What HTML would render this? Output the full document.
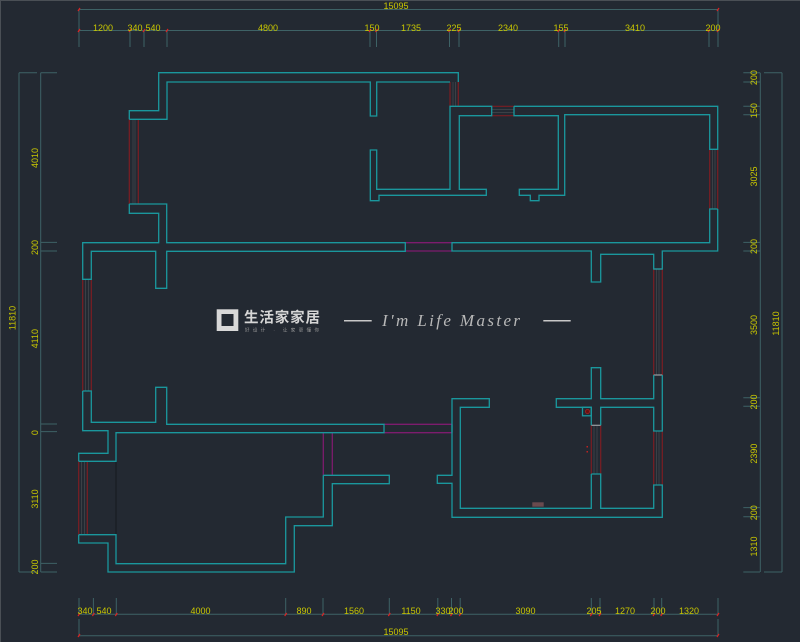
<!DOCTYPE html>
<html><head><meta charset="utf-8"><style>
html,body{margin:0;padding:0;background:#232932;}
svg{display:block}
</style></head><body>
<svg width="800" height="642" viewBox="0 0 800 642" xmlns="http://www.w3.org/2000/svg">
<rect width="800" height="642" fill="#232932"/>
<rect x="0" y="0" width="800" height="1" fill="#4a4f55"/>
<rect x="0" y="0" width="1" height="642" fill="#4a4f55"/>

<!-- dimension lines -->
<g stroke="#3e6266" stroke-width="1" fill="none">
  <line x1="79" y1="9.5" x2="718" y2="9.5"/>
  <line x1="79" y1="9.5" x2="79" y2="30"/><line x1="718" y1="9.5" x2="718" y2="30"/>
  <line x1="79" y1="30.5" x2="718" y2="30.5"/>
  <line x1="79" y1="30" x2="79" y2="47"/><line x1="130" y1="30" x2="130" y2="47"/><line x1="144" y1="30" x2="144" y2="47"/><line x1="167" y1="30" x2="167" y2="47"/><line x1="370" y1="30" x2="370" y2="47"/><line x1="376.5" y1="30" x2="376.5" y2="47"/><line x1="449.5" y1="30" x2="449.5" y2="47"/><line x1="459" y1="30" x2="459" y2="47"/><line x1="558.7" y1="30" x2="558.7" y2="47"/><line x1="565" y1="30" x2="565" y2="47"/><line x1="709" y1="30" x2="709" y2="47"/><line x1="718" y1="30" x2="718" y2="47"/>

  <line x1="79" y1="614.3" x2="718" y2="614.3"/>
  <line x1="79" y1="598" x2="79" y2="614"/><line x1="93.4" y1="598" x2="93.4" y2="614"/><line x1="116.3" y1="598" x2="116.3" y2="614"/><line x1="285.7" y1="598" x2="285.7" y2="614"/><line x1="323" y1="598" x2="323" y2="614"/><line x1="389.3" y1="598" x2="389.3" y2="614"/><line x1="437.8" y1="598" x2="437.8" y2="614"/><line x1="451.5" y1="598" x2="451.5" y2="614"/><line x1="460.2" y1="598" x2="460.2" y2="614"/><line x1="591.3" y1="598" x2="591.3" y2="614"/><line x1="600" y1="598" x2="600" y2="614"/><line x1="654" y1="598" x2="654" y2="614"/><line x1="661.7" y1="598" x2="661.7" y2="614"/><line x1="718" y1="598" x2="718" y2="614"/>
  <line x1="79" y1="635.7" x2="718" y2="635.7"/>
  <line x1="79" y1="619" x2="79" y2="636"/><line x1="718" y1="619" x2="718" y2="636"/>

  <line x1="19" y1="72.8" x2="19" y2="572"/>
  <line x1="40.7" y1="72.8" x2="40.7" y2="572"/>
  <line x1="19" y1="72.8" x2="37" y2="72.8"/><line x1="40.7" y1="72.8" x2="57" y2="72.8"/>
  <line x1="19" y1="572" x2="37" y2="572"/><line x1="40.7" y1="572" x2="57" y2="572"/>
  <line x1="40.7" y1="242.4" x2="57" y2="242.4"/><line x1="40.7" y1="251" x2="57" y2="251"/><line x1="40.7" y1="424" x2="57" y2="424"/><line x1="40.7" y1="431.6" x2="57" y2="431.6"/><line x1="40.7" y1="563.4" x2="57" y2="563.4"/>

  <line x1="760.3" y1="72.8" x2="760.3" y2="572"/>
  <line x1="782" y1="72.8" x2="782" y2="572"/>
  <line x1="743.3" y1="72.8" x2="760" y2="72.8"/><line x1="764" y1="72.8" x2="782" y2="72.8"/>
  <line x1="743.3" y1="572" x2="760" y2="572"/><line x1="764" y1="572" x2="782" y2="572"/>
  <line x1="743.3" y1="82" x2="760" y2="82"/><line x1="743.3" y1="106.3" x2="760" y2="106.3"/><line x1="743.3" y1="114.7" x2="760" y2="114.7"/><line x1="743.3" y1="242.4" x2="760" y2="242.4"/><line x1="743.3" y1="251" x2="760" y2="251"/><line x1="743.3" y1="397.8" x2="760" y2="397.8"/><line x1="743.3" y1="406.3" x2="760" y2="406.3"/><line x1="743.3" y1="507.6" x2="760" y2="507.6"/><line x1="743.3" y1="516.8" x2="760" y2="516.8"/>
</g>
<g stroke="#d22" stroke-width="1.2">
  <line x1="78" y1="11" x2="80" y2="8"/><line x1="717" y1="11" x2="719" y2="8"/>
  <line x1="78" y1="32" x2="80" y2="29"/><line x1="129" y1="32" x2="131" y2="29"/><line x1="143" y1="32" x2="145" y2="29"/><line x1="166" y1="32" x2="168" y2="29"/><line x1="369" y1="32" x2="371" y2="29"/><line x1="375.5" y1="32" x2="377.5" y2="29"/><line x1="448.5" y1="32" x2="450.5" y2="29"/><line x1="458" y1="32" x2="460" y2="29"/><line x1="557.7" y1="32" x2="559.7" y2="29"/><line x1="564" y1="32" x2="566" y2="29"/><line x1="708" y1="32" x2="710" y2="29"/><line x1="717" y1="32" x2="719" y2="29"/>
  <line x1="78" y1="616" x2="80" y2="613"/><line x1="92.4" y1="616" x2="94.4" y2="613"/><line x1="115.3" y1="616" x2="117.3" y2="613"/><line x1="284.7" y1="616" x2="286.7" y2="613"/><line x1="322" y1="616" x2="324" y2="613"/><line x1="388.3" y1="616" x2="390.3" y2="613"/><line x1="436.8" y1="616" x2="438.8" y2="613"/><line x1="450.5" y1="616" x2="452.5" y2="613"/><line x1="459.2" y1="616" x2="461.2" y2="613"/><line x1="590.3" y1="616" x2="592.3" y2="613"/><line x1="599" y1="616" x2="601" y2="613"/><line x1="653" y1="616" x2="655" y2="613"/><line x1="660.7" y1="616" x2="662.7" y2="613"/><line x1="717" y1="616" x2="719" y2="613"/>
  <line x1="78" y1="637" x2="80" y2="634"/><line x1="717" y1="637" x2="719" y2="634"/>
</g>

<!-- dimension text -->
<g font-family="Liberation Sans, sans-serif" font-size="9" fill="#c9c700" text-anchor="middle">
  <text x="396" y="9">15095</text>
  <text x="103" y="31">1200</text><text x="135" y="31">340</text><text x="153" y="31">540</text><text x="268" y="31">4800</text><text x="372" y="31">150</text><text x="411" y="31">1735</text><text x="454" y="31">225</text><text x="508" y="31">2340</text><text x="561" y="31">155</text><text x="635" y="31">3410</text><text x="713" y="31">200</text>
  <text x="85" y="614">340</text><text x="104" y="614">540</text><text x="200.5" y="614">4000</text><text x="304" y="614">890</text><text x="354" y="614">1560</text><text x="411" y="614">1150</text><text x="443" y="614">330</text><text x="456" y="614">200</text><text x="525.5" y="614">3090</text><text x="594" y="614">205</text><text x="625" y="614">1270</text><text x="658" y="614">200</text><text x="689" y="614">1320</text>
  <text x="396" y="635">15095</text>
  <text transform="translate(15.5,318) rotate(-90)">11810</text>
  <text transform="translate(38,158) rotate(-90)">4010</text>
  <text transform="translate(38,247.5) rotate(-90)">200</text>
  <text transform="translate(38,338.7) rotate(-90)">4110</text>
  <text transform="translate(38,432.6) rotate(-90)">0</text>
  <text transform="translate(38,499) rotate(-90)">3110</text>
  <text transform="translate(38,567) rotate(-90)">200</text>
  <text transform="translate(757,77.6) rotate(-90)">200</text>
  <text transform="translate(757,110.6) rotate(-90)">150</text>
  <text transform="translate(757,176.5) rotate(-90)">3025</text>
  <text transform="translate(757,246.5) rotate(-90)">200</text>
  <text transform="translate(757,325) rotate(-90)">3500</text>
  <text transform="translate(757,402) rotate(-90)">200</text>
  <text transform="translate(757,453.6) rotate(-90)">2390</text>
  <text transform="translate(757,512.7) rotate(-90)">200</text>
  <text transform="translate(757,546.5) rotate(-90)">1310</text>
  <text transform="translate(779,323.5) rotate(-90)">11810</text>
</g>

<!-- windows -->
<g stroke="#3b4046" stroke-width="1">
  <line x1="133" y1="119" x2="133" y2="204"/><line x1="135" y1="119" x2="135" y2="204"/>
  <line x1="453" y1="82" x2="453" y2="106"/><line x1="455.5" y1="82" x2="455.5" y2="106"/>
  <line x1="491.7" y1="109.5" x2="514" y2="109.5"/><line x1="491.7" y1="112.5" x2="514" y2="112.5"/>
  <line x1="712.5" y1="149" x2="712.5" y2="209"/><line x1="715" y1="149" x2="715" y2="209"/>
  <line x1="656.5" y1="269" x2="656.5" y2="375"/><line x1="659" y1="269" x2="659" y2="375"/>
  <line x1="656.5" y1="431" x2="656.5" y2="485"/><line x1="659" y1="431" x2="659" y2="485"/>
  <line x1="594" y1="425" x2="594" y2="474"/><line x1="597" y1="425" x2="597" y2="474"/>
  <line x1="85.5" y1="279" x2="85.5" y2="391"/><line x1="88.5" y1="279" x2="88.5" y2="391"/>
  <line x1="81.5" y1="461" x2="81.5" y2="535"/><line x1="84.5" y1="461" x2="84.5" y2="535"/>
  <line x1="116" y1="461" x2="116" y2="535" stroke="#15191e"/>
</g>
<g stroke="#7c1d22" stroke-width="1.2">
  <line x1="129.3" y1="119" x2="129.3" y2="204"/><line x1="138.3" y1="119" x2="138.3" y2="204"/>
  <line x1="450" y1="82" x2="450" y2="106.3"/><line x1="458.3" y1="82" x2="458.3" y2="106.3"/>
  <line x1="491.7" y1="106.3" x2="514" y2="106.3"/><line x1="491.7" y1="115.7" x2="514" y2="115.7"/>
  <line x1="709.7" y1="149.3" x2="709.7" y2="209"/><line x1="717.7" y1="149.3" x2="717.7" y2="209"/>
  <line x1="653.7" y1="269" x2="653.7" y2="375"/><line x1="662.3" y1="269" x2="662.3" y2="375"/>
  <line x1="653.7" y1="431" x2="653.7" y2="485"/><line x1="662.3" y1="431" x2="662.3" y2="485"/>
  <line x1="591.3" y1="425.3" x2="591.3" y2="474"/><line x1="600.7" y1="425.3" x2="600.7" y2="474"/>
  <line x1="82.7" y1="279.3" x2="82.7" y2="391"/><line x1="91.3" y1="279.3" x2="91.3" y2="391"/>
  <line x1="78.7" y1="461.3" x2="78.7" y2="534.7"/><line x1="87.3" y1="461.3" x2="87.3" y2="534.7"/>
</g>
<g stroke="#9a9ea3" stroke-width="1.2">
  <line x1="653.7" y1="269" x2="662.3" y2="269"/><line x1="653.7" y1="375" x2="662.3" y2="375"/>
  <line x1="591.3" y1="425.3" x2="600.7" y2="425.3"/>
</g>
<!-- magenta doors -->
<g stroke="#7d1c6e" stroke-width="1.3">
  <line x1="405.3" y1="242.7" x2="452" y2="242.7"/><line x1="405.3" y1="251" x2="452" y2="251"/>
  <line x1="384" y1="424.3" x2="452" y2="424.3"/><line x1="384" y1="432.7" x2="452" y2="432.7"/>
  <line x1="323.3" y1="432.7" x2="323.3" y2="475.3"/><line x1="332.3" y1="432.7" x2="332.3" y2="475.3"/>
</g>

<!-- walls -->
<g stroke="#1a979d" stroke-width="1.3" fill="none" stroke-linejoin="miter">
  <polyline points="129.3,119.3 129.3,110.7 158.7,110.7 158.7,72.7 458.3,72.7 458.3,82"/>
  <polyline points="129.3,119.3 138.3,119.3 167,119.3 167,82 370.3,82 370.3,116 376.7,116 376.7,82 450,82"/>
  <polyline points="129.3,204 129.3,213.3 158.7,213.3 158.7,242.7 82.7,242.7 82.7,279.3 91.3,279.3 91.3,251.3 155.7,251.3 155.7,288.3 166.7,288.3 166.7,251.3 405.3,251.3 405.3,242.7 166.7,242.7 166.7,204 129.3,204"/>
  <polyline points="458.3,106.3 450,106.3 450,189.3 376.7,189.3 376.7,150 370.3,150 370.3,200.7 379,200.7 379,195.3 486.3,195.3 486.3,189.3 459.3,189.3 459.3,115.7 491.7,115.7 491.7,106.3 450,106.3"/>
  <polyline points="514,106.3 717.7,106.3 717.7,149.3 709.7,149.3 709.7,114.7 564.7,114.7 564.7,195.3 539,195.3 539,200.7 530.3,200.7 530.3,195.3 519.3,195.3 519.3,189.3 558.3,189.3 558.3,115.7 514,115.7 514,106.3"/>
  <polyline points="717.7,209 709.7,209 709.7,242.7 452,242.7 452,251 591.3,251 591.3,282 600.7,282 600.7,254.3 653.7,254.3 653.7,269 662.3,269 662.3,251 717.7,251 717.7,209"/>
  <polyline points="662.3,375 662.3,431 653.7,431 653.7,407.3 600.7,407.3 600.7,425.3"/>
  <polyline points="653.7,375 653.7,398.7 600.7,398.7 600.7,367.7 591.3,367.7 591.3,398.7 556.3,398.7 556.3,407.3 591.3,407.3 591.3,425.3"/>
  <polyline points="591.3,474 591.3,508.3 460.3,508.3 460.3,407.3 489.3,407.3 489.3,398.7 452,398.7 452,475.3 437.3,475.3 437.3,483.3 452,483.3 452,517.3 662.3,517.3 662.3,485 653.7,485 653.7,508.3 600.7,508.3 600.7,474 591.3,474"/>
  <polyline points="82.7,391 91.3,391 91.3,422.3 155.7,422.3 155.7,387.3 166.7,387.3 166.7,424.3 384,424.3 384,432.7 116,432.7 116,461.3 78.7,461.3"/>
  <polyline points="82.7,391 82.7,430.7 108,430.7 108,453.3 78.7,453.3 78.7,461.3"/>
  <polyline points="78.7,534.7 78.7,543 108,543 108,572 294.3,572 294.3,525.7 332.3,525.7 332.3,483.7 389.3,483.7 389.3,475.3 323.3,475.3"/>
  <polyline points="78.7,534.7 116,534.7 116,563.7 285.7,563.7 285.7,517 323.3,517 323.3,475.3"/>
  <polyline points="452,424.3 452,432.7"/>
  <rect x="582.5" y="407.3" width="8.8" height="8.5"/>
</g>
<circle cx="587.5" cy="411.5" r="2" fill="#6a1010" stroke="#a22" stroke-width="0.8"/>
<rect x="586.5" y="446" width="1.5" height="1.5" fill="#b22"/>
<rect x="586.5" y="451" width="1.5" height="1.5" fill="#b22"/>
<rect x="532.3" y="502.3" width="11.4" height="4.4" fill="#6a4a4e"/>

<!-- logo -->
<rect x="216.7" y="309.3" width="21.6" height="21.7" fill="#d8d8d8"/>
<rect x="221.5" y="314" width="12" height="12" fill="#232932"/>
<text x="244" y="322.5" font-family="Liberation Sans, 'Noto Sans CJK SC', sans-serif" font-size="14.5" font-weight="bold" fill="#d6d6d6" textLength="76">生活家家居</text>
<text x="245" y="331.5" font-family="Liberation Sans, 'Noto Sans CJK SC', sans-serif" font-size="4.5" fill="#9a9a9a" textLength="74">好设计 · 让家更懂你</text>
<rect x="344" y="320" width="27.7" height="1.5" fill="#c8c8c8"/>
<text x="382" y="326" font-family="Liberation Serif, serif" font-style="italic" font-size="17" fill="#b8b8b8" textLength="138">I'm Life Master</text>
<rect x="543.3" y="320" width="27.4" height="1.5" fill="#c8c8c8"/>
</svg>
</body></html>
